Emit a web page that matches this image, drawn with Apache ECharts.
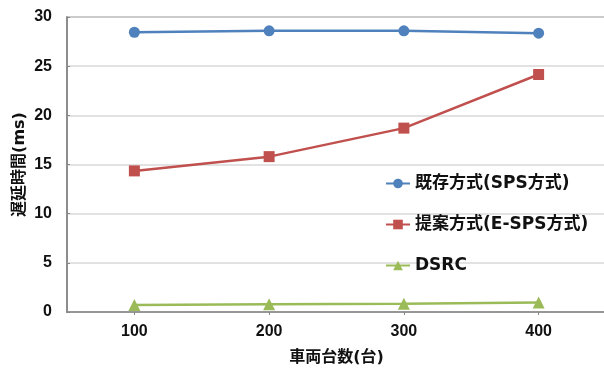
<!DOCTYPE html>
<html>
<head>
<meta charset="utf-8">
<script src="https://cdn.jsdelivr.net/npm/echarts@6/dist/echarts.min.js"></script>
<style>
  html, body { margin: 0; padding: 0; background: #fff; }
  #chart { width: 604px; height: 370px; }
</style>
</head>
<body>
<div id="chart"></div>
<script>
// Number of vehicles on the x axis
const vehicleCounts = ['100', '200', '300', '400'];

// Delay in ms for each scheme
const existingSps = [28.45, 28.6, 28.6, 28.35];
const proposedEsps = [14.35, 15.8, 18.7, 24.15];
const dsrc = [0.72, 0.78, 0.85, 0.96];

const seriesNames = ['既存方式(SPS方式)', '提案方式(E-SPS方式)', 'DSRC'];
const yTicks = { min: 0, max: 30, interval: 5 };

// Latin glyphs from a wide sans, Japanese glyphs from Noto CJK
const textFont = '"DejaVu Sans", "Noto Sans CJK JP", sans-serif';
const numFont = '"Liberation Sans", Arial, sans-serif';
const ink = '#111111';

const chart = echarts.init(document.getElementById('chart'), null, { renderer: 'canvas' });

chart.setOption({
  animation: false,
  backgroundColor: '#ffffff',
  textStyle: { fontFamily: textFont },
  grid: {
    left: 67, top: 17, right: -2, bottom: 58,
    outerBoundsMode: 'none',
    containLabel: false,
    show: true, borderColor: '#868686', borderWidth: 1.5, backgroundColor: 'transparent'
  },
  legend: {
    orient: 'vertical',
    left: 385, top: 175,
    padding: 0,
    itemGap: 24,
    itemWidth: 24, itemHeight: 12,
    textStyle: { fontFamily: textFont, fontSize: 17, fontWeight: 'bold', color: ink },
    data: seriesNames
  },
  xAxis: {
    type: 'category',
    data: vehicleCounts,
    name: '車両台数(台)',
    nameLocation: 'middle',
    nameGap: 38,
    nameMoveOverlap: false,
    nameTextStyle: { fontFamily: textFont, fontSize: 16, fontWeight: 'bold', color: ink },
    axisLine: { lineStyle: { color: '#868686', width: 1.5 } },
    axisTick: { show: true, alignWithLabel: true, length: 3, lineStyle: { color: '#868686' } },
    axisLabel: { fontFamily: numFont, fontSize: 16, fontWeight: 'bold', color: ink, margin: 12 }
  },
  yAxis: {
    type: 'value',
    min: yTicks.min, max: yTicks.max, interval: yTicks.interval,
    name: '遅延時間(ms)',
    nameLocation: 'middle',
    nameGap: 39,
    nameMoveOverlap: false,
    nameRotate: 90,
    nameTextStyle: { fontFamily: textFont, fontSize: 16, fontWeight: 'bold', color: ink },
    axisLine: { show: true, lineStyle: { color: '#868686', width: 1.5 } },
    axisTick: { show: true, inside: true, length: 3, lineStyle: { color: '#868686' } },
    axisLabel: { fontFamily: numFont, fontSize: 16, fontWeight: 'bold', color: ink, margin: 15 },
    splitLine: { lineStyle: { color: '#D9D9D9', width: 1.5 } }
  },
  series: [
    {
      name: seriesNames[0], type: 'line', data: existingSps,
      symbol: 'circle', symbolSize: 11,
      lineStyle: { color: '#4F81BD', width: 2.5 },
      itemStyle: { color: '#4F81BD' }
    },
    {
      name: seriesNames[1], type: 'line', data: proposedEsps,
      symbol: 'rect', symbolSize: 11,
      lineStyle: { color: '#C0504D', width: 2.5 },
      itemStyle: { color: '#C0504D' }
    },
    {
      name: seriesNames[2], type: 'line', data: dsrc,
      symbol: 'triangle', symbolSize: 12,
      lineStyle: { color: '#9BBB59', width: 2.5 },
      itemStyle: { color: '#9BBB59' }
    }
  ]
});
</script>
</body>
</html>
